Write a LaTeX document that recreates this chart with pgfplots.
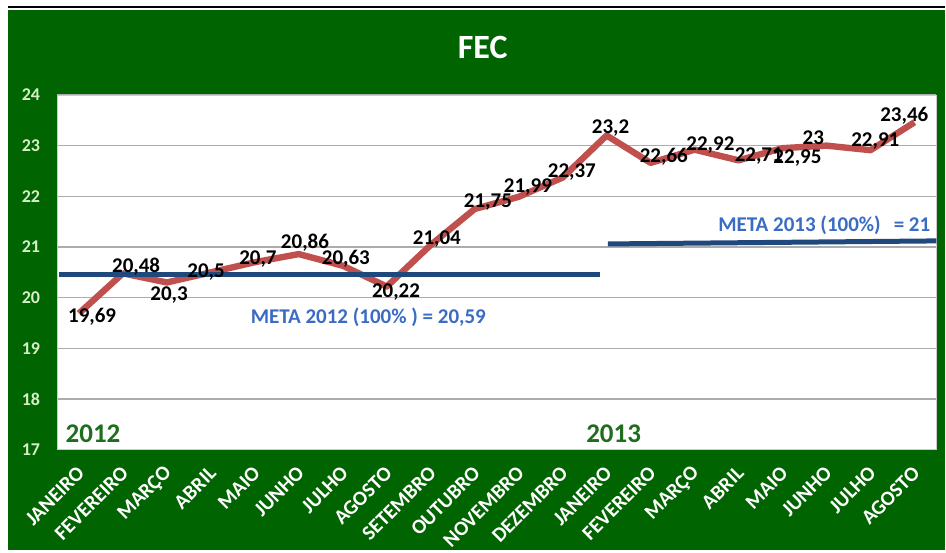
\documentclass[border=0pt]{standalone}
\usepackage{pgfplots}
\pgfplotsset{compat=1.18}
\usepackage{pgfplotstable}
\usepackage{fontspec}
\setmainfont{Carlito}

\definecolor{bggreen}{RGB}{0,100,0}
\definecolor{linered}{RGB}{192,80,77}
\definecolor{metablue}{RGB}{31,73,125}
\definecolor{txtblue}{RGB}{58,108,196}
\definecolor{yrgreen}{RGB}{30,110,30}
\definecolor{ticklab}{RGB}{215,238,200}

% x = month index, y = FEC; lx/ly = where its label sits
\pgfplotstableread{
x  y     lx    ly    lab
0  19.69 0.30  19.63 19,69
1  20.48 1.30  20.62 20,48
2  20.30 2.05  20.05 20,3
3  20.50 2.89  20.50 20,5
4  20.70 4.07  20.76 20,7
5  20.86 5.14  21.09 20,86
6  20.63 6.07  20.77 20,63
7  20.22 7.21  20.12 20,22
8  21.04 8.14  21.16 21,04
9  21.75 9.30  21.89 21,75
10 21.99 10.21 22.19 21,99
11 22.37 11.21 22.47 22,37
12 23.20 12.09 23.34 23,2
13 22.66 13.30 22.78 22,66
14 22.92 14.36 23.02 22,92
15 22.71 15.46 22.79 22,71
16 22.95 16.34 22.75 22,95
17 23.00 16.70 23.16 23
18 22.91 18.11 23.09 22,91
19 23.46 18.77 23.58 23,46
}\fec

\begin{document}
\begin{tikzpicture}
% page and green frame
\fill[white] (0pt,0pt) rectangle (473pt,276.5pt);
\fill[bggreen] (4pt,1.5pt) rectangle (473pt,271.5pt);
\draw[black, line width=0.6pt] (4pt,273pt) -- (473pt,273pt);
\node[text=white, font=\bfseries\fontsize{17}{20}\selectfont] at (241.5pt,252.5pt) {FEC};

\begin{axis}[
    at={(28.5pt,51.5pt)}, anchor=south west,
    scale only axis, width=440pt, height=177.5pt,
    xmin=-0.5, xmax=19.5, ymin=17, ymax=24,
    xtick={0,...,19},
    xticklabels={JANEIRO,FEVEREIRO,MARÇO,ABRIL,MAIO,JUNHO,JULHO,AGOSTO,SETEMBRO,OUTUBRO,NOVEMBRO,DEZEMBRO,JANEIRO,FEVEREIRO,MARÇO,ABRIL,MAIO,JUNHO,JULHO,AGOSTO},
    ytick={17,...,24},
    ymajorgrids, grid style={gray!65, line width=0.7pt},
    major tick length=0pt,
    axis line style={gray!40},
    axis background/.style={fill=white},
    clip=false,
    /pgf/number format/assume math mode=true,
    yticklabel style={anchor=center, xshift=-13pt, text=ticklab,
        font=\bfseries\fontsize{9}{10}\selectfont},
    xticklabel style={rotate=45, anchor=east, text=white, inner sep=0pt,
        xshift=-6.4pt, yshift=-7.8pt, font=\bfseries\fontsize{10.3}{12}\selectfont},
]
\addplot[linered, line width=3.2pt, line join=round, no markers]
    table[x=x, y=y] {\fec};
% value labels
\addplot[draw=none, no markers, point meta=explicit symbolic,
    nodes near coords={\pgfplotspointmeta},
    every node near coord/.style={anchor=center, text=black,
        font=\bfseries\fontsize{10.5}{12}\selectfont}]
    table[x=lx, y=ly, meta=lab] {\fec};

% metas
\addplot[metablue, line width=2.5pt, no markers] coordinates {(-0.45,20.45) (11.85,20.45)};
\addplot[metablue, line width=2.5pt, no markers] coordinates {(12.03,21.06) (19.5,21.12)};

\node[text=txtblue, font=\bfseries\fontsize{10.5}{12}\selectfont]
    at (axis cs:6.58,19.61) {META 2012 (100\% ) = 20,59};
\node[text=txtblue, font=\bfseries\fontsize{10.5}{12}\selectfont]
    at (axis cs:16.95,21.43) {META 2013 (100\%) \ \,= 21};
\node[text=yrgreen, font=\bfseries\fontsize{13.5}{15}\selectfont]
    at (axis cs:0.32,17.31) {2012};
\node[text=yrgreen, font=\bfseries\fontsize{13.5}{15}\selectfont]
    at (axis cs:12.16,17.31) {2013};
\end{axis}
\end{tikzpicture}
\end{document}
